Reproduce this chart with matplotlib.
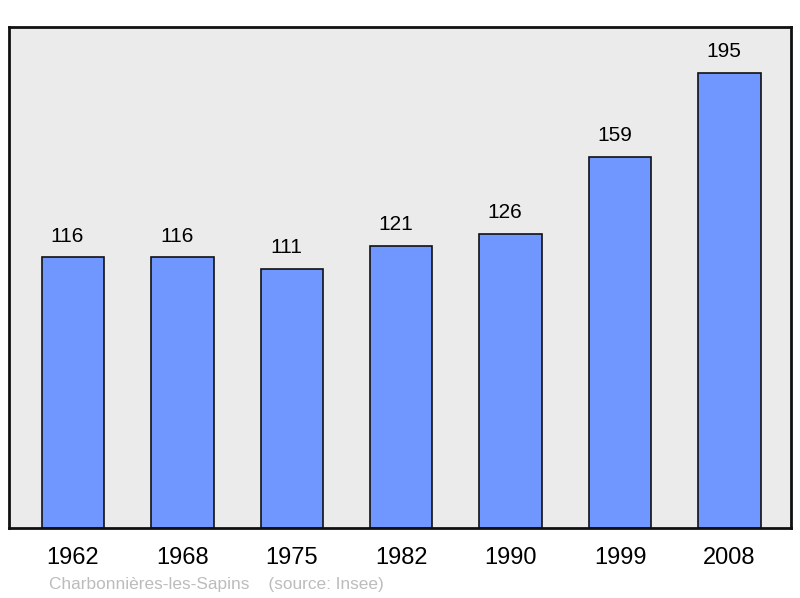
import matplotlib.pyplot as plt
import numpy as np

plt.rcParams['font.family'] = ['Liberation Sans', 'DejaVu Sans']

years = ["1962", "1968", "1975", "1982", "1990", "1999", "2008"]
population = [116, 116, 111, 121, 126, 159, 195]
source_text = "Charbonnières-les-Sapins    (source: Insee)"

fig = plt.figure(figsize=(8, 5.98), dpi=100)
ax = fig.add_axes([9 / 800, 1 - 528 / 598, 782 / 800, 501 / 598])
ax.set_facecolor("#ebebeb")

x = np.arange(len(years))
ax.bar(x, population, width=0.57, color="#7096ff", edgecolor="#111111",
       linewidth=1.2, zorder=2)

# value labels sit a little left of the bar centre in the original
for xi, v in zip(x, population):
    ax.text(xi - 0.05, v + 9.0, str(v), ha="center", va="center", fontsize=15)

ax.set_xlim(-0.585, 6.563)
ax.set_ylim(0, 214.7)
ax.set_yticks([])
ax.set_xticks(x)
ax.set_xticklabels(years, fontsize=17)
ax.tick_params(axis="x", length=0, pad=14)
for s in ax.spines.values():
    s.set_linewidth(2)
    s.set_color("#111111")

fig.text(49 / 800, 1 - 584 / 598, source_text, fontsize=12.4, color="#bcbcbc",
         ha="left", va="center")

fig.savefig("out.png", dpi=100)
